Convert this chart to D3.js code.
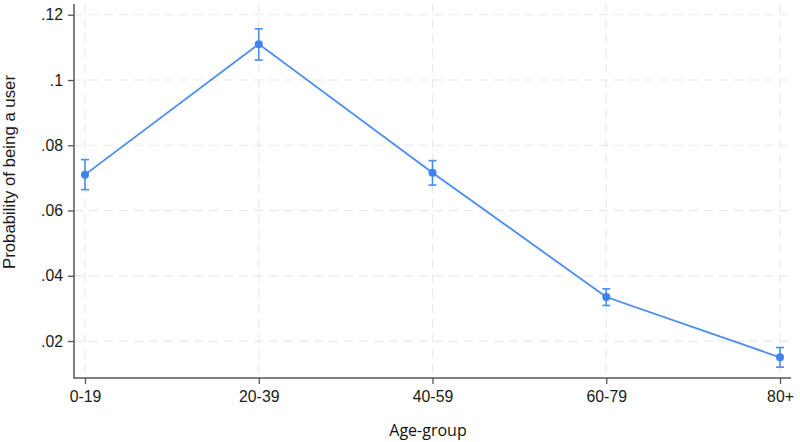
<!DOCTYPE html>
<html><head><meta charset="utf-8">
<script src="https://cdn.jsdelivr.net/npm/d3@7"></script>
<style>body{margin:0;background:#fff}svg{display:block}</style>
</head><body>
<svg id="c" width="800" height="442"></svg>
<script>
const categories = ["0-19","20-39","40-59","60-79","80+"];
const estimates = [0.071, 0.111, 0.0716, 0.0335, 0.015];
const ciLow = [0.0664, 0.1061, 0.0678, 0.0309, 0.012];
const ciHigh = [0.0756, 0.1157, 0.0753, 0.036, 0.018];
const yTicks = [0.02, 0.04, 0.06, 0.08, 0.10, 0.12];
const yTickLabels = [".02", ".04", ".06", ".08", ".1", ".12"];

(function(){
const svg = d3.select("#c");
const pL = 74, pR = 791, pT = 4, pB = 378;
const blue = "#4a8cf0";
const x = d3.scalePoint().domain(categories).range([85, 780]);
const y = d3.scaleLinear().domain([0.00867, 0.1233]).range([pB, pT]);

// grid
const g = svg.append("g");
g.selectAll("line.h").data(yTicks).enter().append("line")
  .attr("x1", pL).attr("x2", pR)
  .attr("y1", d => y(d)).attr("y2", d => y(d))
  .attr("stroke", "#e9e9e9").attr("stroke-width", 1.2).attr("stroke-dasharray", "9,6");
g.selectAll("line.v").data(categories).enter().append("line")
  .attr("x1", d => x(d)).attr("x2", d => x(d))
  .attr("y1", pT).attr("y2", pB)
  .attr("stroke", "#e9e9e9").attr("stroke-width", 1.2).attr("stroke-dasharray", "9,6");

// axes
const yAxis = d3.axisLeft(y).tickValues(yTicks).tickFormat((d,i) => yTickLabels[i]).tickSize(6).tickPadding(5).tickSizeOuter(0);
const ya = svg.append("g").attr("transform", `translate(${pL},0)`).call(yAxis);
const xAxis = d3.axisBottom(x).tickSize(6).tickPadding(7).tickSizeOuter(0);
const xa = svg.append("g").attr("transform", `translate(0,${pB})`).call(xAxis);
[ya, xa].forEach(a => {
  a.select(".domain").remove();
  a.selectAll(".tick line").attr("stroke", "#555").attr("stroke-width", 1.3);
  a.selectAll(".tick text").attr("fill", "#1a1a1a").style("font-family", "Liberation Sans, Arial, sans-serif").style("font-size", "15.8px");
});
svg.append("line").attr("x1", pL).attr("x2", pL).attr("y1", pT).attr("y2", pB + 0.6).attr("stroke", "#555").attr("stroke-width", 1.5);
svg.append("line").attr("x1", pL).attr("x2", pR).attr("y1", pB).attr("y2", pB).attr("stroke", "#555").attr("stroke-width", 1.5);

// line
const data = categories.map((c,i) => ({c, v: estimates[i], lo: ciLow[i], hi: ciHigh[i]}));
svg.append("path").datum(data)
  .attr("d", d3.line().x(d => x(d.c)).y(d => y(d.v)))
  .attr("fill", "none").attr("stroke", blue).attr("stroke-width", 1.8);
// error bars
const eb = svg.append("g").attr("stroke", blue).attr("stroke-width", 1.6);
eb.selectAll("line.e").data(data).enter().append("line")
  .attr("x1", d => x(d.c)).attr("x2", d => x(d.c)).attr("y1", d => y(d.lo)).attr("y2", d => y(d.hi));
eb.selectAll("line.t").data(data).enter().append("line")
  .attr("x1", d => x(d.c) - 4).attr("x2", d => x(d.c) + 4).attr("y1", d => y(d.hi)).attr("y2", d => y(d.hi));
eb.selectAll("line.b").data(data).enter().append("line")
  .attr("x1", d => x(d.c) - 4).attr("x2", d => x(d.c) + 4).attr("y1", d => y(d.lo)).attr("y2", d => y(d.lo));
svg.selectAll("circle").data(data).enter().append("circle")
  .attr("cx", d => x(d.c)).attr("cy", d => y(d.v)).attr("r", 4).attr("fill", "#3f82ec");

// titles
svg.append("text").attr("x", 428).attr("y", 436).attr("text-anchor", "middle")
  .style("font-family", "Open Sans, sans-serif").style("font-size", "16px").attr("fill", "#111").text("Age-group");
svg.append("text").attr("transform", "translate(15,172) rotate(-90)").attr("text-anchor", "middle")
  .style("font-family", "Liberation Sans, Arial, sans-serif").style("font-size", "16.8px").attr("fill", "#1a1a1a").text("Probability of being a user");
})();
</script>
</body></html>
